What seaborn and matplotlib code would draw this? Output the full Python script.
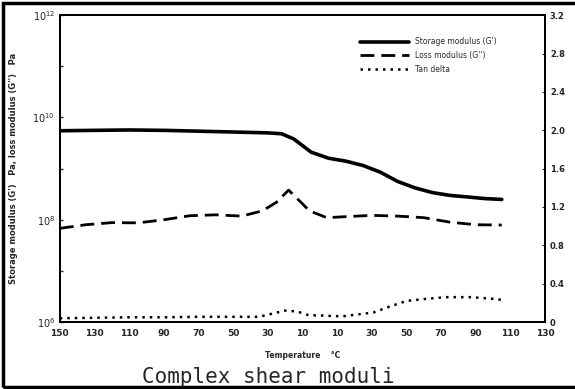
import numpy as np
import pandas as pd
import matplotlib
matplotlib.use("Agg")
import matplotlib.pyplot as plt
import matplotlib.ticker as mticker
import seaborn as sns
from matplotlib.patches import Rectangle

# data
storage_temp = [-150, -130, -110, -90, -70, -50, -30, -22, -15, -5, 5, 15, 25, 35, 45, 55, 65, 75, 85, 95, 105]
storage_mod = [5.5e9, 5.6e9, 5.7e9, 5.6e9, 5.4e9, 5.2e9, 5.0e9, 4.8e9, 3.8e9, 2.1e9, 1.6e9, 1.4e9,
               1.15e9, 8.5e8, 5.6e8, 4.2e8, 3.4e8, 3.0e8, 2.8e8, 2.6e8, 2.5e8]

loss_temp = [-150, -135, -120, -105, -90, -75, -60, -45, -33, -25, -18, -12, -6, 4, 15, 30, 45, 60, 75, 90, 105]
loss_mod = [6.8e7, 8.0e7, 8.8e7, 8.7e7, 1.0e8, 1.2e8, 1.25e8, 1.18e8, 1.5e8, 2.2e8, 3.8e8, 2.4e8,
            1.5e8, 1.1e8, 1.15e8, 1.22e8, 1.18e8, 1.1e8, 9.0e7, 8.0e7, 7.9e7]

tan_temp = [-150, -130, -110, -90, -70, -50, -35, -27, -20, -13, -6, 0, 5, 13, 22, 31, 40, 50, 60, 73, 87, 102, 105]
tan_delta = [0.04, 0.045, 0.05, 0.05, 0.055, 0.055, 0.055, 0.09, 0.12, 0.11, 0.07, 0.07, 0.065, 0.06,
             0.08, 0.10, 0.16, 0.22, 0.24, 0.26, 0.26, 0.24, 0.23]

x_ticks = [-150, -130, -110, -90, -70, -50, -30, -10, 10, 30, 50, 70, 90, 110, 130]
x_ticklabels = ["150", "130", "110", "90", "70", "50", "30", "10", "10", "30", "50", "70", "90", "110", "130"]
right_ticks = [0, 0.4, 0.8, 1.2, 1.6, 2.0, 2.4, 2.8, 3.2]
right_ticklabels = ["0", "0.4", "0.8", "1.2", "1.6", "2.0", "2.4", "2.8", "3.2"]

sns.set_style("ticks")
plt.rcParams['font.family'] = ['DejaVu Sans']

fig = plt.figure(figsize=(5.75, 3.89), dpi=100)
ax = fig.add_axes([0.104, 0.172, 0.844, 0.789])

storage = pd.DataFrame({"T": storage_temp, "G": storage_mod})
loss = pd.DataFrame({"T": loss_temp, "G": loss_mod})
tan = pd.DataFrame({"T": tan_temp, "tan": tan_delta})

sns.lineplot(data=storage, x="T", y="G", ax=ax, color="black", lw=2.6,
             label="Storage modulus (G')")
sns.lineplot(data=loss, x="T", y="G", ax=ax, color="black", lw=2.0,
             label="Loss modulus (G'')")
ax.lines[-1].set_dashes([5, 2.5])

ax2 = ax.twinx()
sns.lineplot(data=tan, x="T", y="tan", ax=ax2, color="black", lw=1.8, legend=False)
ax2.lines[-1].set_linestyle((0, (1, 2)))

ax.set_yscale("log")
ax.set_ylim(1e6, 1e12)
ax.set_xlim(-150, 130)
ax.yaxis.set_major_locator(mticker.FixedLocator([1e6, 1e8, 1e10, 1e12]))
ax.yaxis.set_minor_locator(mticker.FixedLocator([1e7, 1e9, 1e11]))
ax.yaxis.set_minor_formatter(mticker.NullFormatter())
ax.set_yticklabels(["$10^6$", "$10^8$", "$10^{10}$", "$10^{12}$"], fontsize=7)
ax.tick_params(axis="y", which="both", direction="in", length=2, width=1)
ax.set_xticks(x_ticks)
ax.set_xticklabels(x_ticklabels, fontsize=6.5, fontweight="bold")
ax.tick_params(axis="x", length=0, pad=5)
ax.set_xlabel("Temperature    °C", fontsize=5.5, fontweight="bold", labelpad=9)
ax.set_ylabel("Storage modulus (G')   Pa, loss modulus (G'')   Pa", fontsize=6,
              fontweight="bold")
ax.yaxis.set_label_coords(-0.087, 0.5)

ax2.set_ylim(0, 3.2)
ax2.set_yticks(right_ticks)
ax2.set_yticklabels(right_ticklabels, fontsize=6, fontweight="bold")
ax2.tick_params(axis="y", direction="in", length=2)
ax2.set_ylabel("")

for a in (ax, ax2):
    for s in a.spines.values():
        s.set_linewidth(1.4)
        s.set_color("black")

# legend: the two moduli plus the tan delta line from the twin axis
handles, labels = ax.get_legend_handles_labels()
handles.append(ax2.lines[-1])
labels.append("Tan delta")
leg = ax.legend(handles, labels, loc="upper right", bbox_to_anchor=(0.915, 0.95),
                frameon=False, fontsize=5.5, handlelength=6.5, labelspacing=0.6)

fig.text(0.466, 0.03, "Complex shear moduli", family="DejaVu Sans Mono",
         fontsize=15, ha="center", va="center")

fig.patches.append(Rectangle((0.005, 0.005), 1.2, 0.987, transform=fig.transFigure,
                             fill=False, lw=2.5, edgecolor="black"))

fig.savefig("out.png", dpi=100, facecolor="white")
